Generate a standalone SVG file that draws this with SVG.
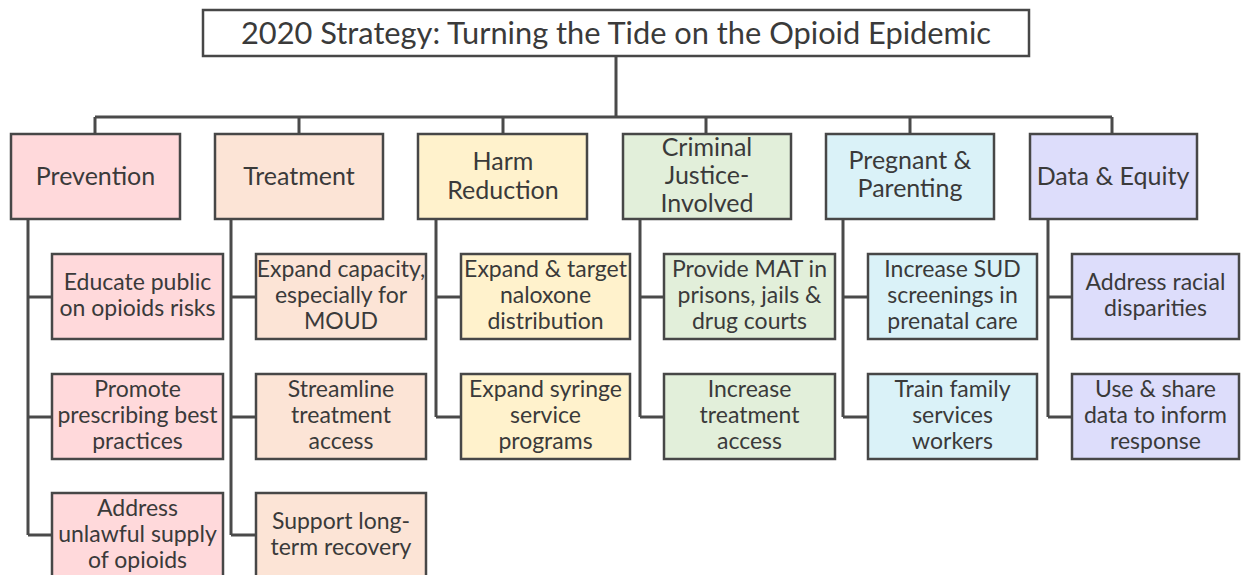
<svg xmlns="http://www.w3.org/2000/svg" width="1241" height="575" viewBox="0 0 1241 575">
<style>
  .box{stroke:#474747;stroke-width:2.5}
  .t{font-family:Lato,"Open Sans","DejaVu Sans",sans-serif;fill:#3a3a3a;text-anchor:middle}
  .cat{font-size:25px}
  .sub{font-size:23px}
  .ttl{font-size:30px}
  .ln{fill:none;stroke:#4a4a4a;stroke-width:3}
  .prev{fill:#FFD9DB}.treat{fill:#FCE4D6}.harm{fill:#FFF2CC}.crim{fill:#E2EFDA}.preg{fill:#DAF2F8}.data{fill:#DDDDFB}
</style>
<rect width="1241" height="575" fill="#ffffff"/>
<g id="connectors" class="ln">
  <path d="M616 56V117M95 117H1112M95 117V134M299 117V134M503 117V134M706 117V134M910 117V134M1112 117V134"/>
  <path d="M28 219V535M28 297H52M28 417H52M28 535H52"/>
  <path d="M231 219V535M231 297H256M231 417H256M231 535H256"/>
  <path d="M436 219V417M436 297H461M436 417H461"/>
  <path d="M640 219V417M640 297H664M640 417H664"/>
  <path d="M843 219V417M843 297H868M843 417H868"/>
  <path d="M1048 219V417M1048 297H1072M1048 417H1072"/>
</g>
<g id="title">
  <rect class="box" x="203" y="10" width="826" height="46" fill="#ffffff"/>
  <text class="t ttl" x="616" y="44" textLength="750" lengthAdjust="spacingAndGlyphs">2020 Strategy: Turning the Tide on the Opioid Epidemic</text>
</g>
<g id="prevention">
  <rect class="box prev" x="11" y="134" width="169" height="85"/>
  <text class="t cat" x="95.5" y="185">Prevention</text>
</g>
<g id="treatment">
  <rect class="box treat" x="215" y="134" width="168" height="85"/>
  <text class="t cat" x="299" y="185">Treatment</text>
</g>
<g id="harm">
  <rect class="box harm" x="418" y="134" width="169" height="85"/>
  <text class="t cat" x="503" y="170">Harm</text>
  <text class="t cat" x="503" y="199">Reduction</text>
</g>
<g id="criminal">
  <rect class="box crim" x="623" y="134" width="168" height="85"/>
  <text class="t cat" x="707" y="156">Criminal</text>
  <text class="t cat" x="707" y="184">Justice-</text>
  <text class="t cat" x="707" y="212">Involved</text>
</g>
<g id="pregnant">
  <rect class="box preg" x="826" y="134" width="168" height="85"/>
  <text class="t cat" x="910" y="169">Pregnant &amp;</text>
  <text class="t cat" x="910" y="197">Parenting</text>
</g>
<g id="data">
  <rect class="box data" x="1030" y="134" width="167" height="85"/>
  <text class="t cat" x="1113" y="185">Data &amp; Equity</text>
</g>
<g id="prev1"><rect class="box prev" x="52" y="254" width="171" height="85"/>
  <text class="t sub" x="137.5" y="290">Educate public</text><text class="t sub" x="137.5" y="316">on opioids risks</text></g>
<g id="prev2"><rect class="box prev" x="52" y="374" width="171" height="85"/>
  <text class="t sub" x="137.5" y="397">Promote</text><text class="t sub" x="137.5" y="423">prescribing best</text><text class="t sub" x="137.5" y="449">practices</text></g>
<g id="prev3"><rect class="box prev" x="52" y="493" width="171" height="85"/>
  <text class="t sub" x="137.5" y="516">Address</text><text class="t sub" x="137.5" y="542">unlawful supply</text><text class="t sub" x="137.5" y="568">of opioids</text></g>
<g id="treat1"><rect class="box treat" x="256" y="254" width="170" height="85"/>
  <text class="t sub" x="341" y="277">Expand capacity,</text><text class="t sub" x="341" y="303">especially for</text><text class="t sub" x="341" y="329">MOUD</text></g>
<g id="treat2"><rect class="box treat" x="256" y="374" width="170" height="85"/>
  <text class="t sub" x="341" y="397">Streamline</text><text class="t sub" x="341" y="423">treatment</text><text class="t sub" x="341" y="449">access</text></g>
<g id="treat3"><rect class="box treat" x="256" y="493" width="170" height="85"/>
  <text class="t sub" x="341" y="529">Support long-</text><text class="t sub" x="341" y="555">term recovery</text></g>
<g id="harm1"><rect class="box harm" x="461" y="254" width="169" height="85"/>
  <text class="t sub" x="545.5" y="277">Expand &amp; target</text><text class="t sub" x="545.5" y="303">naloxone</text><text class="t sub" x="545.5" y="329">distribution</text></g>
<g id="harm2"><rect class="box harm" x="461" y="374" width="169" height="85"/>
  <text class="t sub" x="545.5" y="397">Expand syringe</text><text class="t sub" x="545.5" y="423">service</text><text class="t sub" x="545.5" y="449">programs</text></g>
<g id="crim1"><rect class="box crim" x="664" y="254" width="171" height="85"/>
  <text class="t sub" x="749.5" y="277">Provide MAT in</text><text class="t sub" x="749.5" y="303">prisons, jails &amp;</text><text class="t sub" x="749.5" y="329">drug courts</text></g>
<g id="crim2"><rect class="box crim" x="664" y="374" width="171" height="85"/>
  <text class="t sub" x="749.5" y="397">Increase</text><text class="t sub" x="749.5" y="423">treatment</text><text class="t sub" x="749.5" y="449">access</text></g>
<g id="preg1"><rect class="box preg" x="868" y="254" width="169" height="85"/>
  <text class="t sub" x="952.5" y="277">Increase SUD</text><text class="t sub" x="952.5" y="303">screenings in</text><text class="t sub" x="952.5" y="329">prenatal care</text></g>
<g id="preg2"><rect class="box preg" x="868" y="374" width="169" height="85"/>
  <text class="t sub" x="952.5" y="397">Train family</text><text class="t sub" x="952.5" y="423">services</text><text class="t sub" x="952.5" y="449">workers</text></g>
<g id="data1"><rect class="box data" x="1072" y="254" width="167" height="85"/>
  <text class="t sub" x="1155.5" y="290">Address racial</text><text class="t sub" x="1155.5" y="316">disparities</text></g>
<g id="data2"><rect class="box data" x="1072" y="374" width="167" height="85"/>
  <text class="t sub" x="1155.5" y="397">Use &amp; share</text><text class="t sub" x="1155.5" y="423">data to inform</text><text class="t sub" x="1155.5" y="449">response</text></g>
</svg>
